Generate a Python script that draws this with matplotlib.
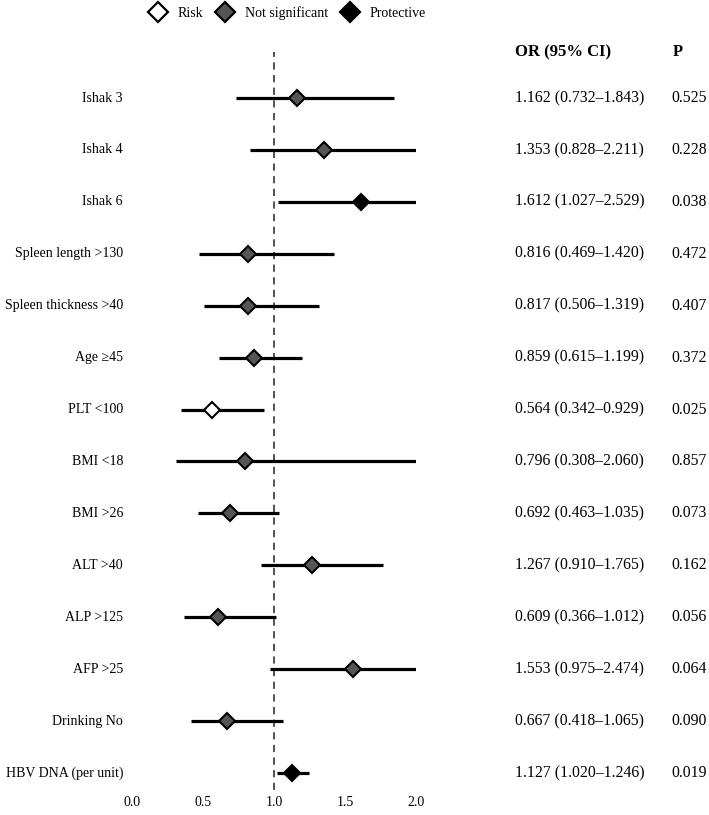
import numpy as np
import matplotlib.pyplot as plt
from matplotlib.lines import Line2D
from matplotlib.transforms import blended_transform_factory

plt.rcParams.update({
    "font.family": "serif",
    "font.serif": ["Liberation Serif", "DejaVu Serif"],
    "font.size": 10,
})

labels = ["Ishak 3", "Ishak 4", "Ishak 6", "Spleen length >130", "Spleen thickness >40",
          "Age \u226545", "PLT <100", "BMI <18", "BMI >26", "ALT >40", "ALP >125",
          "AFP >25", "Drinking No", "HBV DNA (per unit)"]
odds = [1.162, 1.353, 1.612, 0.816, 0.817, 0.859, 0.564, 0.796, 0.692, 1.267, 0.609, 1.553, 0.667, 1.127]
ci_low = [0.732, 0.828, 1.027, 0.469, 0.506, 0.615, 0.342, 0.308, 0.463, 0.910, 0.366, 0.975, 0.418, 1.020]
ci_high = [1.843, 2.211, 2.529, 1.420, 1.319, 1.199, 0.929, 2.060, 1.035, 1.765, 1.012, 2.474, 1.065, 1.246]
p_values = [0.525, 0.228, 0.038, 0.472, 0.407, 0.372, 0.025, 0.857, 0.073, 0.162, 0.056, 0.064, 0.090, 0.019]
groups = ["ns", "ns", "prot", "ns", "ns", "ns", "risk", "ns", "ns", "ns", "ns", "ns", "ns", "prot"]

face = {"risk": "white", "ns": "#555555", "prot": "black"}
names = {"risk": "Risk", "ns": "Not significant", "prot": "Protective"}

W, H = 709, 815
fig = plt.figure(figsize=(W / 100, H / 100), dpi=100)
ax = fig.add_axes([132 / W, 1 - 790 / H, 284 / W, (790 - 52) / H])

n = len(labels)
ys = np.arange(n)
ax.axvline(1.0, color="#444444", ls=(0, (4, 3)), lw=1.3, zorder=1)
for y, o, lo, hi, g in zip(ys, odds, ci_low, ci_high, groups):
    ax.plot([lo, hi], [y, y], color="black", lw=2.3, solid_capstyle="butt", zorder=2)
    ax.plot(o, y, marker="D", ms=8.5, mfc=face[g], mec="black", mew=1.5, zorder=3)

ax.set_xlim(0, 2.0)
ax.set_ylim(13 + 17 / 51.92, -46 / 51.92)
ax.set_xticks([0, 0.5, 1.0, 1.5, 2.0])
ax.set_xticklabels(["0.0", "0.5", "1.0", "1.5", "2.0"])
ax.tick_params(axis="x", length=0, pad=4, labelsize=10)
ax.set_yticks([])
for s in ax.spines.values():
    s.set_visible(False)

tr = blended_transform_factory(fig.transFigure, ax.transData)
for y, lab, o, lo, hi, p in zip(ys, labels, odds, ci_low, ci_high, p_values):
    ax.text(123 / W, y, lab, transform=tr, ha="right", va="center", fontsize=10)
    ax.text(515 / W, y, f"{o:.3f} ({lo:.3f}\u2013{hi:.3f})", transform=tr,
            ha="left", va="center", fontsize=11.3)
    ax.text(671 / W, y, f"{p:.3f}", transform=tr, ha="left", va="center", fontsize=11.3)

fig.text(515 / W, 1 - 52 / H, "OR (95% CI)", ha="left", va="center", fontsize=12, fontweight="bold")
fig.text(673 / W, 1 - 52 / H, "P", ha="left", va="center", fontsize=12, fontweight="bold")

handles = [Line2D([], [], ls="none", marker="D", ms=10, mfc=face[k], mec="black", mew=1.6)
           for k in ["risk", "ns", "prot"]]
fig.legend(handles, [names[k] for k in ["risk", "ns", "prot"]], loc="center",
           bbox_to_anchor=(287 / W, 1 - 13 / H), ncol=3, frameon=False,
           handletextpad=0.7, columnspacing=0.9, handlelength=1.4, fontsize=10)

fig.savefig("out.png", dpi=100)
